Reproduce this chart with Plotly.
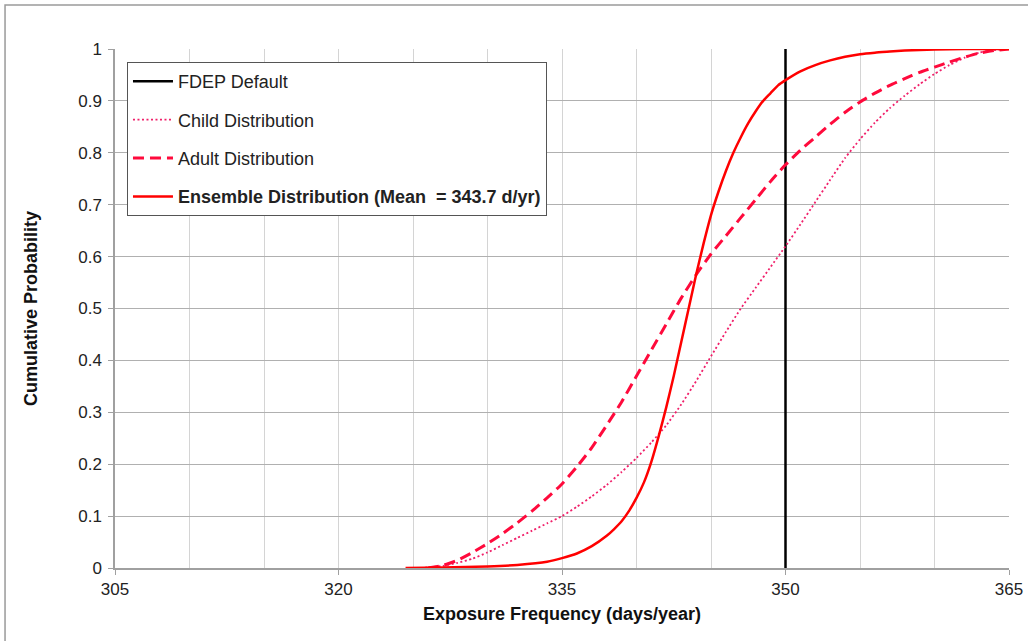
import plotly.graph_objects as go

# FDEP default exposure frequency
fdep_x = [350, 350]
fdep_y = [0, 1]

# Child distribution (dotted)
child_x = [325.5, 327, 328, 329, 330, 331, 332, 333, 334, 335, 336, 337, 338, 339,
           340, 341, 342, 343, 344, 345, 346, 347, 348, 349, 350, 351, 352, 353,
           354, 355, 356, 357, 358, 359, 360, 361, 362, 363, 364, 365]
child_y = [0, 0.004, 0.01, 0.018, 0.03, 0.044, 0.058, 0.072, 0.086, 0.10, 0.118,
           0.138, 0.16, 0.185, 0.212, 0.242, 0.275, 0.315, 0.36, 0.408, 0.455, 0.50,
           0.54, 0.58, 0.62, 0.662, 0.705, 0.748, 0.79, 0.826, 0.858, 0.886, 0.91,
           0.932, 0.952, 0.969, 0.983, 0.993, 0.998, 1.0]

# Adult distribution (dashed)
adult_x = [326, 327, 328, 329, 330, 331, 332, 333, 334, 335, 336, 337, 338, 339,
           340, 341, 342, 343, 344, 345, 346, 347, 348, 349, 350, 351, 352, 353,
           354, 355, 356, 357, 358, 359, 360, 361, 362, 363, 364, 365]
adult_y = [0, 0.005, 0.015, 0.03, 0.047, 0.066, 0.087, 0.11, 0.135, 0.162, 0.195,
           0.232, 0.275, 0.32, 0.37, 0.42, 0.47, 0.52, 0.565, 0.605, 0.64, 0.675,
           0.71, 0.745, 0.777, 0.805, 0.83, 0.855, 0.878, 0.898, 0.915, 0.93, 0.943,
           0.955, 0.965, 0.975, 0.984, 0.992, 0.997, 1.0]

# Ensemble distribution (solid)
ens_x = [324.5, 327, 330, 332, 334, 335, 336, 337, 338, 338.5, 339, 339.5, 340,
         340.5, 341, 341.5, 342, 342.5, 343, 343.5, 344, 344.5, 345, 345.5, 346,
         346.5, 347, 347.5, 348, 348.5, 349, 349.5, 350, 351, 352, 353, 354, 355,
         356, 357, 358, 359, 360, 362, 365]
ens_y = [0, 0.001, 0.003, 0.006, 0.012, 0.019, 0.028, 0.042, 0.062, 0.075, 0.09,
         0.11, 0.135, 0.165, 0.205, 0.255, 0.31, 0.37, 0.435, 0.50, 0.565, 0.625,
         0.68, 0.725, 0.765, 0.80, 0.83, 0.857, 0.88, 0.90, 0.915, 0.93, 0.94,
         0.957, 0.969, 0.978, 0.985, 0.99, 0.993, 0.995, 0.997, 0.998, 0.999, 1.0,
         1.0]

FONT = 'Arial, Liberation Sans, sans-serif'

fig = go.Figure()

fig.add_trace(go.Scatter(
    x=fdep_x, y=fdep_y, mode='lines', name='FDEP Default',
    line=dict(color='#000000', width=2.5), legendgroup='a',
))
fig.add_trace(go.Scatter(
    x=child_x, y=child_y, mode='lines', name='Child Distribution',
    line=dict(color='#f0206a', width=1.8, dash='2px,2.5px', shape='spline', smoothing=0.5),
    legendgroup='b',
))
fig.add_trace(go.Scatter(
    x=adult_x, y=adult_y, mode='lines', name='Adult Distribution',
    line=dict(color='#ff0a3c', width=3, dash='11px,6px', shape='spline', smoothing=0.5),
    legendgroup='c',
))
fig.add_trace(go.Scatter(
    x=ens_x, y=ens_y, mode='lines',
    name='<b>Ensemble Distribution (Mean \u00a0= 343.7 d/yr)</b>',
    line=dict(color='#ff0000', width=2.5, shape='spline', smoothing=0.5),
    legendgroup='d',
))

# outer frame around the picture
fig.add_shape(type='rect', xref='paper', yref='paper',
              x0=-0.123, x1=1.05, y0=-0.2, y1=1.0848,
              line=dict(color='#9a9a9a', width=1.5), layer='below')

fig.update_layout(
    width=1028, height=641,
    margin=dict(l=115, r=19, t=49, b=73),
    paper_bgcolor='white', plot_bgcolor='white',
    font=dict(family=FONT, size=17, color='#222222'),
    showlegend=True,
    legend=dict(
        x=0.0134, y=0.975, xanchor='left', yanchor='top',
        bgcolor='white', bordercolor='#555555', borderwidth=1,
        font=dict(family=FONT, size=18, color='#222222'),
        traceorder='grouped', tracegroupgap=12, itemwidth=40,
    ),
    xaxis=dict(
        range=[305, 365], tick0=305, dtick=15, showgrid=True,
        gridcolor='#d4d4d4', gridwidth=1,
        minor=dict(dtick=5, showgrid=True, gridcolor='#d4d4d4', gridwidth=1),
        showline=True, linecolor='#a0a0a0', linewidth=1.5,
        ticks='outside', ticklen=5, tickcolor='#a0a0a0',
        ticklabelstandoff=0, zeroline=False, automargin=False,
        title=dict(text='<b>Exposure Frequency (days/year)</b>', standoff=9,
                   font=dict(family=FONT, size=18, color='#111111')),
    ),
    yaxis=dict(
        range=[0, 1], dtick=0.1, showgrid=True,
        gridcolor='#b0b0b0', gridwidth=1,
        showline=True, linecolor='#a0a0a0', linewidth=1.5,
        ticks='outside', ticklen=5, tickcolor='#a0a0a0',
        ticklabelstandoff=3, tickformat='.1~f', zeroline=False, automargin=False,
        title=dict(text='<b>Cumulative Probability</b>', standoff=36,
                   font=dict(family=FONT, size=18, color='#111111')),
    ),
)

# drop the default page margin so the figure sits at the window's corner
fig.write_html('out.html', config={'displayModeBar': False},
               post_script="document.body.style.margin='0';")
